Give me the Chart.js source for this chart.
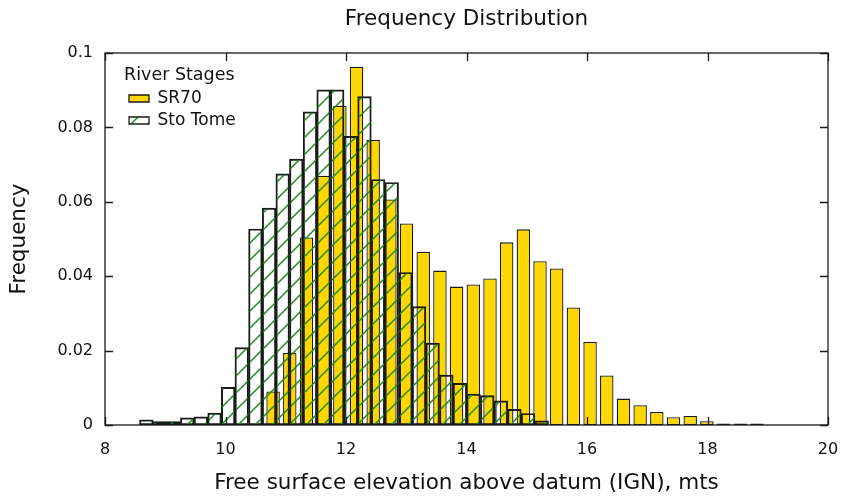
<!DOCTYPE html>
<html>
<head>
<meta charset="utf-8">
<title>Frequency Distribution</title>
<script src="https://cdn.jsdelivr.net/npm/chart.js@4.4.0/dist/chart.umd.min.js"></script>
<style>
  html, body { margin: 0; padding: 0; background: #ffffff; }
  #wrap { width: 843px; height: 497px; }
</style>
</head>
<body>
<div id="wrap"><canvas id="freqChart" width="843" height="497"></canvas></div>
<script>
// Histogram data (bin centres + relative frequency)
const SR70_BINS = [10.790, 11.067, 11.344, 11.621, 11.898, 12.175, 12.451, 12.728, 13.005, 13.282,
                   13.559, 13.836, 14.113, 14.390, 14.667, 14.944, 15.220, 15.497, 15.774, 16.051,
                   16.328, 16.605, 16.882, 17.159, 17.436, 17.713, 17.989, 18.266, 18.543, 18.820];
const SR70_FREQ = [0.0090, 0.0194, 0.0504, 0.0670, 0.0858, 0.0963, 0.0766, 0.0606, 0.0542, 0.0466,
                   0.0415, 0.0372, 0.0378, 0.0394, 0.0491, 0.0526, 0.0440, 0.0421, 0.0316, 0.0223,
                   0.0133, 0.0071, 0.0053, 0.0035, 0.0021, 0.0024, 0.0010, 0.0004, 0.0004, 0.0004];

const STO_TOME_BINS = [8.686, 8.912, 9.139, 9.365, 9.591, 9.818, 10.044, 10.270, 10.496, 10.723,
                       10.949, 11.175, 11.402, 11.628, 11.854, 12.081, 12.307, 12.533, 12.759, 12.986,
                       13.212, 13.438, 13.665, 13.891, 14.117, 14.344, 14.570, 14.796, 15.022, 15.249];
const STO_TOME_FREQ = [0.0014, 0.0009, 0.0009, 0.0019, 0.0022, 0.0032, 0.0101, 0.0208, 0.0527, 0.0583,
                       0.0675, 0.0715, 0.0842, 0.0901, 0.0901, 0.0776, 0.0883, 0.0660, 0.0652, 0.0410,
                       0.0318, 0.0220, 0.0134, 0.0112, 0.0083, 0.0079, 0.0065, 0.0042, 0.0031, 0.0011];

const X_TICKS = [8, 10, 12, 14, 16, 18, 20];
const Y_TICKS = [0, 0.02, 0.04, 0.06, 0.08, 0.1];

// --- styles ---
const FONT = 'DejaVu Sans';
const TEXT = '#111111';
const EDGE = '#1a1a1a';
const GOLD = '#FFD700';
const HATCH_GREEN = '#228B22';
const TICK_LEN = 8;

// diagonal "/" hatch on transparent ground
function makeHatch(ctx, color) {
    const s = 17;
    const c = document.createElement('canvas');
    c.width = s; c.height = s;
    const g = c.getContext('2d');
    g.strokeStyle = color;
    g.lineWidth = 1.5;
    g.beginPath();
    g.moveTo(0, s); g.lineTo(s, 0);
    g.moveTo(-s / 2, s / 2); g.lineTo(s / 2, -s / 2);
    g.moveTo(s / 2, s * 1.5); g.lineTo(s * 1.5, s / 2);
    g.stroke();
    return ctx.createPattern(c, 'repeat');
}

function toPoints(xs, ys) {
    return xs.map((x, i) => ({ x: x, y: ys[i] }));
}

function fixTicks(values) {
    return function(scale) { scale.ticks = values.map(v => ({ value: v })); };
}

// box around the plot + inward ticks on all four sides
const frameTicks = {
    id: 'frameTicks',
    afterLayout(chart) {
        // put the legend inside the plot, top left
        const a = chart.chartArea;
        const lg = chart.legend;
        if (!lg) return;
        lg.left = a.left + 19;
        lg.top = a.top + 11;
        lg.right = a.right;
        lg.bottom = a.bottom;
    },
    afterDatasetsDraw(chart) {
        const { ctx, chartArea: a, scales } = chart;
        ctx.save();
        ctx.strokeStyle = EDGE;
        ctx.lineWidth = 1.3;
        ctx.strokeRect(a.left, a.top, a.right - a.left, a.bottom - a.top);
        ctx.beginPath();
        X_TICKS.forEach(v => {
            const px = Math.round(scales.x.getPixelForValue(v)) + 0.5;
            ctx.moveTo(px, a.bottom); ctx.lineTo(px, a.bottom - TICK_LEN);
            ctx.moveTo(px, a.top); ctx.lineTo(px, a.top + TICK_LEN);
        });
        Y_TICKS.forEach(v => {
            const py = Math.round(scales.y.getPixelForValue(v)) + 0.5;
            ctx.moveTo(a.left, py); ctx.lineTo(a.left + TICK_LEN, py);
            ctx.moveTo(a.right, py); ctx.lineTo(a.right - TICK_LEN, py);
        });
        ctx.stroke();
        ctx.restore();
    }
};

const canvas = document.getElementById('freqChart');
const ctx = canvas.getContext('2d');
const hatch = makeHatch(ctx, HATCH_GREEN);

new Chart(ctx, {
    type: 'bar',
    data: {
        datasets: [{
            label: 'SR70',
            data: toPoints(SR70_BINS, SR70_FREQ),
            xAxisID: 'x',
            backgroundColor: GOLD,
            borderColor: EDGE,
            borderWidth: 1.3,
            borderSkipped: false,
            categoryPercentage: 1.0,
            barPercentage: 0.81,
            grouped: false,
            order: 2
        }, {
            label: 'Sto Tome',
            data: toPoints(STO_TOME_BINS, STO_TOME_FREQ),
            xAxisID: 'x2',
            backgroundColor: hatch,
            borderColor: EDGE,
            borderWidth: 1.3,
            borderSkipped: false,
            categoryPercentage: 1.0,
            barPercentage: 1.0,
            grouped: false,
            order: 1
        }]
    },
    options: {
        responsive: false,
        animation: false,
        events: [],
        layout: { padding: { left: 0, right: 15, top: 0, bottom: 0 } },
        scales: {
            x: {
                type: 'linear',
                min: 8, max: 20,
                offset: false,
                afterBuildTicks: fixTicks(X_TICKS),
                afterFit(scale) {
                    scale.height = 72;
                    // label overhang is covered by the layout padding
                    scale.paddingLeft = 0;
                    scale.paddingRight = 0;
                },
                grid: { display: false, drawTicks: false },
                border: { display: false },
                ticks: { color: TEXT, padding: 15, font: { family: FONT, size: 16 },
                         callback: v => String(v) },
                title: {
                    display: true,
                    text: 'Free surface elevation above datum (IGN), mts',
                    color: TEXT,
                    font: { family: FONT, size: 21.5 },
                    padding: { top: 0, bottom: 1 }
                }
            },
            x2: {
                type: 'linear',
                min: 8, max: 20,
                offset: false,
                display: false,
                afterBuildTicks: fixTicks(X_TICKS)
            },
            y: {
                min: 0, max: 0.1,
                afterBuildTicks: fixTicks(Y_TICKS),
                afterFit(scale) { scale.width = 105; },
                grid: { display: false, drawTicks: false },
                border: { display: false },
                ticks: { color: TEXT, padding: 12, font: { family: FONT, size: 16 },
                         callback: v => String(v) },
                title: {
                    display: true,
                    text: 'Frequency',
                    color: TEXT,
                    font: { family: FONT, size: 21.5 },
                    padding: { top: 7, bottom: 0 }
                }
            }
        },
        plugins: {
            title: {
                display: true,
                text: 'Frequency Distribution',
                fullSize: false,
                color: TEXT,
                font: { family: FONT, size: 21.5, weight: 'normal' },
                padding: { top: 7, bottom: 20.2 }
            },
            legend: {
                position: 'chartArea',
                align: 'start',
                fullSize: false,
                title: {
                    display: true,
                    text: 'River Stages',
                    color: TEXT,
                    position: 'start',
                    font: { family: FONT, size: 17.5 },
                    padding: { top: 3, bottom: -3 }
                },
                labels: {
                    color: TEXT,
                    boxWidth: 20,
                    boxHeight: 7,
                    padding: 5,
                    font: { family: FONT, size: 17 },
                    sort: (a, b) => a.datasetIndex - b.datasetIndex
                }
            },
            tooltip: { enabled: false }
        }
    },
    plugins: [frameTicks]
});
</script>
</body>
</html>
